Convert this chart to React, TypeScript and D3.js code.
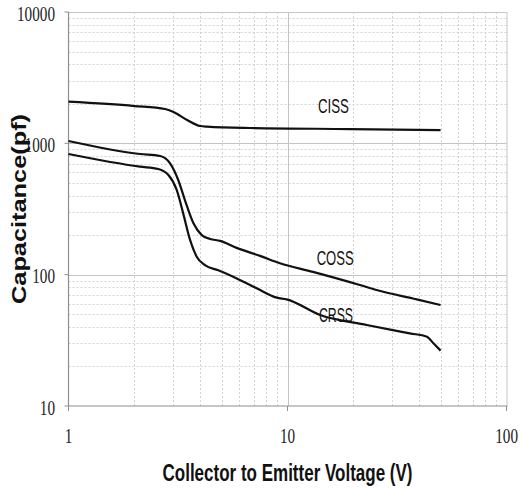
import { useRef, useEffect } from 'react'
import * as d3 from 'd3'

// Collector-emitter voltage (V) vs capacitance (pF)
const cissV = [1, 2, 2.76, 3.0, 3.48, 3.99, 4.29, 6.74, 19.3, 50]
const cissC = [2075, 1923, 1825, 1741, 1506, 1355, 1340, 1308, 1285, 1262]

const cossV = [1, 2.12, 2.62, 2.91, 3.17, 3.4, 3.72, 4.06, 4.43, 4.92, 5.86, 7.49, 9.24, 13.07, 21.4, 25.5, 38.9, 50]
const cossC = [1042, 829, 801, 704, 526, 370, 246, 200, 187, 181, 160, 139, 122, 105, 83.4, 76.4, 64.9, 58.7]

const crssV = [1, 2.12, 2.57, 2.86, 3.12, 3.34, 3.59, 3.85, 4.2, 4.83, 5.65, 7.23, 8.93, 9.9, 14.1, 23.0, 36.2, 43.3, 46.4, 50]
const crssC = [829, 664, 638, 574, 442, 293, 184, 137, 118, 108, 96.5, 78.7, 66.8, 64.9, 49.3, 41.4, 35.7, 33.7, 30.0, 26.4]

const seriesNames = ['CISS', 'COSS', 'CRSS']
const labelV = [16.2, 16.5, 16.65]
const labelC = [1702, 118.5, 43.6]

const xTicks = [1, 10, 100]
const yTicks = [10, 100, 1000, 10000]

const xTitle = 'Collector to Emitter Voltage (V)'
const yTitle = 'Capacitance(pf)'

export default function App() {
  const svgRef = useRef<SVGSVGElement>(null)

  useEffect(() => {
    if (!svgRef.current) return
    const svg = d3.select(svgRef.current)
    svg.selectAll('*').remove()

    const x = d3.scaleLog().domain([1, 100]).range([68.5, 506.5])
    const y = d3.scaleLog().domain([10, 10000]).range([406, 12])
    const [x0, x1] = x.range()
    const [y0, y1] = y.range()

    // minor / major grid
    const minorX: number[] = []
    const majorX: number[] = [10]
    for (const dec of [1, 10]) for (let k = 2; k <= 9; k++) minorX.push(dec * k)
    const minorY: number[] = []
    const majorY: number[] = [100, 1000]
    for (const dec of [10, 100, 1000]) for (let k = 2; k <= 9; k++) minorY.push(dec * k)

    const grid = svg.append('g')
    grid.selectAll('.mx').data(minorX).join('line')
      .attr('x1', (d) => Math.round(x(d)) + 0.5).attr('x2', (d) => Math.round(x(d)) + 0.5)
      .attr('y1', y1).attr('y2', y0)
      .attr('stroke', '#d2d2d2').attr('stroke-dasharray', '2,2')
    grid.selectAll('.my').data(minorY).join('line')
      .attr('y1', (d) => Math.round(y(d)) + 0.5).attr('y2', (d) => Math.round(y(d)) + 0.5)
      .attr('x1', x0).attr('x2', x1)
      .attr('stroke', '#d2d2d2').attr('stroke-dasharray', '2,2')
    grid.selectAll('.Mx').data(majorX).join('line')
      .attr('x1', (d) => Math.round(x(d)) + 0.5).attr('x2', (d) => Math.round(x(d)) + 0.5)
      .attr('y1', y1).attr('y2', y0)
      .attr('stroke', '#c4c4c4')
    grid.selectAll('.My').data(majorY).join('line')
      .attr('y1', (d) => Math.round(y(d)) + 0.5).attr('y2', (d) => Math.round(y(d)) + 0.5)
      .attr('x1', x0).attr('x2', x1)
      .attr('stroke', '#c4c4c4')

    // frame: top/right light, left/bottom axis darker
    svg.append('line').attr('x1', x0).attr('x2', x1).attr('y1', y1 + 0.5).attr('y2', y1 + 0.5).attr('stroke', '#c4c4c4')
    svg.append('line').attr('x1', x1 + 0.5).attr('x2', x1 + 0.5).attr('y1', y1).attr('y2', y0).attr('stroke', '#c4c4c4')
    svg.append('line').attr('x1', x0).attr('x2', x0).attr('y1', y1).attr('y2', y0).attr('stroke', '#8f8f8f').attr('stroke-width', 1.2)
    svg.append('line').attr('x1', x0).attr('x2', x1 + 1).attr('y1', y0).attr('y2', y0).attr('stroke', '#8f8f8f').attr('stroke-width', 1.2)

    // ticks + labels
    const tickFont = '"Liberation Serif", "DejaVu Serif", serif'
    svg.selectAll('.ytick').data(yTicks).join('line')
      .attr('x1', x0 - 4).attr('x2', x0).attr('y1', (d) => y(d)).attr('y2', (d) => y(d))
      .attr('stroke', '#8f8f8f')
    svg.selectAll('.ylab').data(yTicks).join('text')
      .attr('x', x0 - 13.5).attr('y', (d) => y(d) + 8.5)
      .attr('text-anchor', 'end')
      .attr('font-family', tickFont).attr('font-size', 22).attr('fill', '#222')
      .attr('textLength', (d) => String(d).length * 7.6).attr('lengthAdjust', 'spacingAndGlyphs')
      .text((d) => String(d))
    svg.selectAll('.xtick').data(xTicks).join('line')
      .attr('x1', (d) => x(d)).attr('x2', (d) => x(d)).attr('y1', y0).attr('y2', y0 + 5)
      .attr('stroke', '#8f8f8f')
    // last label sits at the right edge, so it is right-aligned instead of centred
    const lastTick = xTicks[xTicks.length - 1]
    svg.selectAll('.xlab').data(xTicks).join('text')
      .attr('x', (d) => (d === lastTick ? x(d) + 11.5 : x(d))).attr('y', 443)
      .attr('text-anchor', (d) => (d === lastTick ? 'end' : 'middle'))
      .attr('font-family', tickFont).attr('font-size', 22).attr('fill', '#222')
      .attr('textLength', (d) => String(d).length * 7.6).attr('lengthAdjust', 'spacingAndGlyphs')
      .text((d) => String(d))

    // curves
    const line = d3.line<[number, number]>()
      .x((d) => x(d[0]))
      .y((d) => y(d[1]))
      .curve(d3.curveMonotoneX)
    const series = [
      d3.zip(cissV, cissC) as [number, number][],
      d3.zip(cossV, cossC) as [number, number][],
      d3.zip(crssV, crssC) as [number, number][],
    ]
    svg.selectAll('.curve').data(series).join('path')
      .attr('d', (d) => line(d))
      .attr('fill', 'none')
      .attr('stroke', '#111')
      .attr('stroke-width', 2.2)
      .attr('stroke-linejoin', 'round')

    // series labels
    const labelWidths = [31, 37, 34]
    svg.selectAll('.slab').data(seriesNames).join('text')
      .attr('x', (_, i) => x(labelV[i])).attr('y', (_, i) => y(labelC[i]))
      .attr('text-anchor', 'middle')
      .attr('font-family', '"Liberation Sans", Arial, sans-serif').attr('font-size', 21)
      .attr('fill', '#111')
      .attr('textLength', (_, i) => labelWidths[i]).attr('lengthAdjust', 'spacingAndGlyphs')
      .text((d) => d)

    // axis titles
    svg.append('text')
      .attr('x', (x0 + x1) / 2).attr('y', 481)
      .attr('text-anchor', 'middle')
      .attr('font-family', '"Liberation Sans", Arial, sans-serif').attr('font-weight', 'bold').attr('font-size', 24)
      .attr('fill', '#111')
      .attr('textLength', 250).attr('lengthAdjust', 'spacingAndGlyphs')
      .text(xTitle)
    svg.append('text')
      .attr('transform', `translate(26,${(y0 + y1) / 2}) rotate(-90)`)
      .attr('text-anchor', 'middle')
      .attr('font-family', '"Liberation Sans", Arial, sans-serif').attr('font-weight', 'bold').attr('font-size', 20)
      .attr('fill', '#111')
      .attr('textLength', 190).attr('lengthAdjust', 'spacingAndGlyphs')
      .text(yTitle)
  }, [])

  return (
    <svg
      ref={svgRef}
      width={521}
      height={488}
      style={{ position: 'absolute', left: 0, top: 0, background: '#fff' }}
    />
  )
}
